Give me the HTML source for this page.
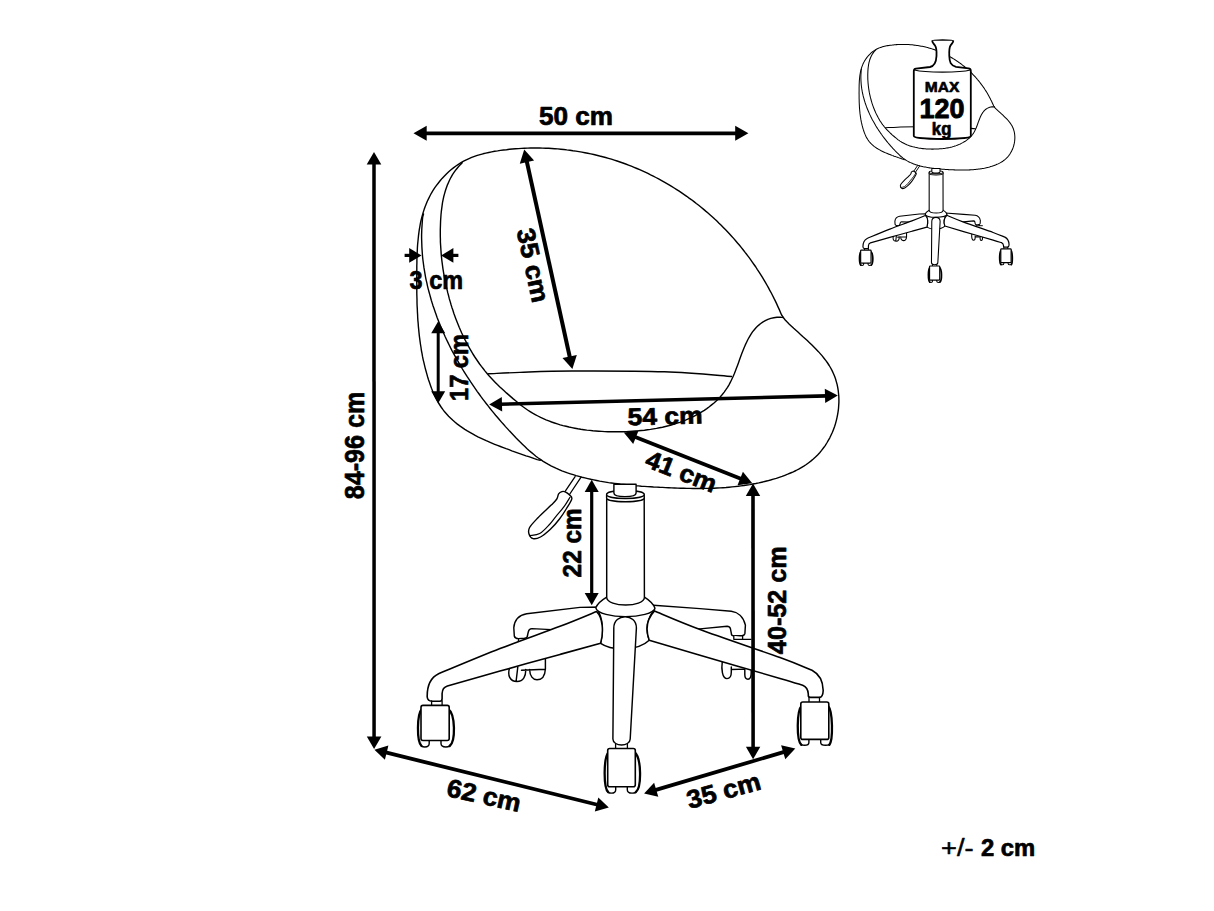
<!DOCTYPE html>
<html><head><meta charset="utf-8"><title>Chair dimensions</title>
<style>html,body{margin:0;padding:0;background:#fff;width:1214px;height:911px;overflow:hidden}svg{display:block}</style>
</head><body>
<svg width="1214" height="911" viewBox="0 0 1214 911" font-family="&quot;Liberation Sans&quot;, sans-serif">
<rect width="1214" height="911" fill="#fff"/>
<g fill="#fff" stroke="#000" stroke-linejoin="round" stroke-linecap="round" style="--k:1"><path d="M783.3 317.4 L781.6 315 L780.4 312.2 L779.2 309.4 L777.9 306.6 L776.7 303.9 L775.4 301.1 L774 298.4 L772.7 295.7 L771.3 293 L769.8 290.3 L768.4 287.7 L766.9 285 L765.4 282.4 L763.9 279.8 L762.3 277.2 L760.7 274.6 L759.1 272.1 L757.4 269.6 L755.8 267 L754 264.5 L752.3 262.1 L750.6 259.6 L748.8 257.2 L747 254.8 L745.1 252.4 L743.3 250 L741.4 247.6 L739.5 245.3 L737.5 243 L735.6 240.7 L733.6 238.4 L731.6 236.2 L729.6 234 L727.5 231.8 L725.4 229.6 L723.3 227.4 L721.2 225.3 L719 223.2 L716.9 221.1 L714.7 219.1 L712.5 217 L710.2 215 L708 213 L705.7 211.1 L703.4 209.1 L701.1 207.2 L698.7 205.3 L696.3 203.5 L694 201.6 L691.6 199.8 L689.1 198.1 L686.7 196.3 L684.2 194.6 L681.7 192.9 L679.2 191.2 L676.7 189.6 L674.2 188 L671.6 186.4 L669.1 184.8 L666.5 183.3 L663.9 181.8 L661.2 180.3 L658.6 178.9 L655.9 177.5 L653.3 176.1 L650.6 174.8 L647.9 173.4 L645.2 172.2 L642.4 170.9 L639.7 169.7 L636.9 168.5 L634.1 167.3 L631.3 166.2 L628.5 165.1 L625.7 164 L622.9 163 L620 162 L617.1 161 L614.3 160.1 L611.4 159.2 L608.5 158.3 L605.6 157.5 L602.6 156.7 L599.7 156 L596.7 155.2 L593.8 154.5 L590.8 153.9 L587.8 153.3 L584.9 152.7 L581.9 152.1 L578.9 151.6 L575.9 151.1 L572.9 150.7 L569.9 150.2 L566.8 149.9 L563.8 149.5 L560.8 149.2 L557.8 148.9 L554.8 148.7 L551.7 148.5 L548.7 148.3 L545.7 148.2 L542.6 148.1 L539.6 148 L536.6 148 L533.5 148 L530.5 148 L527.5 148.1 L524.5 148.2 L521.5 148.4 L518.5 148.6 L515.4 148.8 L512.4 149 L509.5 149.3 L506.5 149.7 L503.5 150 L500.5 150.4 L497.6 150.9 L494.6 151.3 L491.7 151.9 L488.8 152.5 L485.8 153.1 L483 153.8 L480.1 154.6 L477.3 155.4 L474.5 156.4 L471.7 157.4 L469 158.6 L466.3 159.8 L463.6 161.2 L461 162.7 L458.4 164.3 L455.9 166 L453.4 167.9 L451 169.8 L448.7 171.8 L446.4 174 L444.2 176.2 L442.1 178.4 L440.1 180.8 L438.2 183.2 L436.3 185.7 L434.5 188.2 L432.9 190.7 L431.3 193.3 L429.9 196 L428.6 198.6 L427.3 201.3 L426.2 204.1 L425.1 206.8 L424.1 209.6 L423.2 212.4 L422.4 215.2 L421.6 218.1 L420.9 221 L420.3 223.9 L419.8 226.8 L419.3 229.7 L418.9 232.7 L418.5 235.7 L418.2 238.7 L417.9 241.7 L417.6 244.7 L417.4 247.7 L417.3 250.7 L417.1 253.8 L417 256.8 L416.9 259.9 L416.9 262.9 L416.8 266 L416.8 269 L416.8 272.1 L416.8 275.1 L416.7 278.2 L416.7 281.3 L416.8 284.3 L416.8 287.3 L416.8 290.4 L416.8 293.4 L416.9 296.5 L417 299.5 L417 302.5 L417.1 305.6 L417.3 308.6 L417.4 311.6 L417.6 314.6 L417.7 317.6 L417.9 320.6 L418.2 323.6 L418.4 326.6 L418.7 329.6 L419 332.6 L419.3 335.6 L419.7 338.6 L420.1 341.6 L420.5 344.5 L421 347.5 L421.4 350.5 L422 353.4 L422.5 356.4 L423.1 359.3 L423.8 362.2 L424.5 365.2 L425.2 368.1 L426 371 L426.8 373.9 L427.6 376.8 L428.5 379.7 L429.5 382.6 L430.5 385.5 L431.5 388.3 L432.7 391.2 L433.9 393.9 L435.1 396.7 L436.5 399.4 L437.9 402 L439.5 404.5 L441.1 407 L442.8 409.4 L444.6 411.8 L446.6 414 L448.6 416.2 L450.7 418.2 L452.9 420.3 L455.1 422.2 L457.4 424.1 L459.8 425.9 L462.3 427.6 L464.8 429.3 L467.3 430.9 L469.9 432.4 L472.6 433.9 L475.2 435.4 L477.9 436.8 L480.7 438.1 L483.4 439.4 L486.2 440.7 L489 441.9 L491.8 443.1 L494.7 444.3 L497.5 445.4 L500.4 446.5 L503.3 447.6 L506.1 448.7 L509 449.7 L511.8 450.8 L514.7 451.8 L517.5 452.8 L520.4 453.8 L523.2 454.8 L526 455.8 L528.8 456.7 L531.6 457.7 L534.4 458.7 L537.2 459.6 L540.2 460.3" style="stroke-width:calc(var(--k) * 1.4)"/><path d="M423.5 214 L422.7 217 L422.4 220 L422.2 223 L422 226 L421.8 229 L421.7 232 L421.6 235 L421.6 238.1 L421.7 241.1 L421.8 244.1 L421.9 247.1 L422.1 250.1 L422.3 253 L422.5 256 L422.8 259 L423.2 262 L423.6 265 L424 267.9 L424.5 270.9 L425 273.9 L425.5 276.8 L426.1 279.8 L426.8 282.7 L427.4 285.6 L428.1 288.6 L428.9 291.5 L429.7 294.4 L430.5 297.3 L431.3 300.2 L432.2 303.1 L433.1 306 L434.1 308.8 L435.1 311.7 L436.1 314.6 L437.1 317.4 L438.2 320.2 L439.3 323 L440.5 325.9 L441.6 328.6 L442.8 331.4 L444.1 334.2 L445.3 337 L446.6 339.7 L447.9 342.4 L449.3 345.2 L450.6 347.9 L452 350.6 L453.5 353.3 L454.9 355.9 L456.4 358.6 L457.9 361.2 L459.4 363.8 L460.9 366.4 L462.4 369 L464 371.6 L465.6 374.2 L467.2 376.7 L468.9 379.2 L470.5 381.7 L472.2 384.2 L473.9 386.7 L475.6 389.1 L477.3 391.6 L479.1 394 L480.8 396.4 L482.6 398.8 L484.4 401.2 L486.2 403.5 L488.1 405.9 L489.9 408.2 L491.8 410.6 L493.7 412.9 L495.6 415.2 L497.6 417.5 L499.5 419.8 L501.5 422.1 L503.5 424.3 L505.5 426.6 L507.6 428.9 L509.6 431.1 L511.7 433.3 L513.8 435.5 L515.9 437.7 L518.1 439.9 L520.2 442.1 L522.4 444.2 L524.6 446.3 L526.8 448.4 L529 450.4 L531.3 452.4 L533.6 454.3 L535.9 456.2 L538.3 458 L540.8 459.7 L543.2 461.3 L545.8 462.9 L548.4 464.4 L551 465.8 L553.7 467.1 L556.4 468.4 L559.1 469.6 L561.9 470.8 L564.7 471.8 L567.5 472.9 L570.4 473.8 L573.2 474.7 L576.1 475.6 L579 476.4 L582 477.2 L584.9 477.9 L587.8 478.6 L590.8 479.3 L593.8 479.9 L596.7 480.5 L599.7 481.1 L602.6 481.6 L605.6 482.1 L608.6 482.6 L611.5 483 L614.5 483.4 L617.5 483.8 L620.5 484.2 L623.5 484.5 L626.5 484.8 L629.4 485.1 L632.4 485.4 L635.4 485.7 L638.4 485.9 L641.4 486.2 L644.4 486.4 L647.5 486.6 L650.5 486.8 L653.5 487 L656.5 487.1 L659.5 487.3 L662.5 487.4 L665.6 487.6 L668.6 487.7 L671.6 487.9 L674.6 488 L677.7 488.1 L680.7 488.2 L683.7 488.3 L686.8 488.4 L689.8 488.4 L692.8 488.5 L695.9 488.5 L698.9 488.5 L701.9 488.5 L704.9 488.4 L708 488.4 L711 488.3 L714 488.2 L717 488 L720 487.9 L723 487.7 L726 487.5 L729 487.2 L732 486.9 L735 486.6 L738 486.3 L741 485.9 L744 485.5 L747 485 L749.9 484.6 L752.9 484 L755.8 483.5 L758.8 482.9 L761.7 482.2 L764.7 481.5 L767.6 480.8 L770.5 480 L773.4 479.1 L776.3 478.3 L779.2 477.3 L782.1 476.4 L784.9 475.3 L787.7 474.2 L790.5 473 L793.3 471.8 L796 470.5 L798.7 469.1 L801.3 467.6 L803.8 466.1 L806.3 464.5 L808.7 462.7 L811.1 460.9 L813.3 459 L815.5 457 L817.6 454.9 L819.7 452.7 L821.6 450.4 L823.4 448 L825.2 445.6 L826.8 443 L828.3 440.4 L829.8 437.8 L831.1 435 L832.4 432.3 L833.5 429.4 L834.6 426.5 L835.5 423.6 L836.3 420.6 L837 417.6 L837.6 414.6 L838.1 411.6 L838.5 408.5 L838.7 405.5 L838.9 402.4 L838.9 399.4 L838.8 396.3 L838.5 393.3 L838.2 390.3 L837.7 387.4 L837.1 384.4 L836.3 381.6 L835.5 378.7 L834.5 376 L833.3 373.2 L832.1 370.6 L830.7 368 L829.2 365.5 L827.6 363 L825.9 360.6 L824 358.2 L822.2 355.9 L820.2 353.6 L818.2 351.4 L816.1 349.2 L813.9 347 L811.7 344.8 L809.5 342.7 L807.3 340.6 L805 338.5 L802.7 336.5 L800.5 334.4 L798.2 332.3 L795.9 330.3 L793.7 328.3 L791.5 326.2 L789.3 324.2 L787.2 322.1 L785.2 320 L783.4 317.6" style="stroke-width:calc(var(--k) * 1.4)"/><path d="M462.2 162.7 L460.1 164.9 L458 167.3 L456 169.7 L454.2 172.2 L452.5 174.7 L451 177.3 L449.6 180 L448.4 182.7 L447.2 185.4 L446.2 188.2 L445.3 191 L444.5 193.9 L443.7 196.8 L443.1 199.7 L442.5 202.7 L442.1 205.7 L441.7 208.6 L441.3 211.7 L441 214.7 L440.8 217.7 L440.6 220.7 L440.5 223.8 L440.4 226.8 L440.3 229.8 L440.3 232.9 L440.3 235.9 L440.4 238.9 L440.4 242 L440.6 245 L440.8 248 L441 251.1 L441.2 254.1 L441.5 257.1 L441.8 260.1 L442.2 263.1 L442.6 266.1 L443 269.1 L443.5 272.1 L444 275.1 L444.5 278.1 L445.1 281.1 L445.7 284 L446.4 287 L447.1 289.9 L447.8 292.9 L448.6 295.8 L449.3 298.7 L450.2 301.6 L451 304.5 L451.9 307.4 L452.9 310.3 L453.8 313.2 L454.8 316 L455.9 318.9 L457 321.7 L458.1 324.5 L459.2 327.3 L460.4 330 L461.6 332.8 L462.9 335.5 L464.2 338.2 L465.6 340.9 L467 343.6 L468.4 346.2 L469.9 348.8 L471.4 351.4 L472.9 354 L474.5 356.5 L476.2 359 L477.9 361.5 L479.6 364 L481.4 366.4 L483.3 368.8 L485.1 371.1 L487.1 373.5 L489 375.8 L491.1 378 L493.2 380.2 L495.3 382.4 L497.4 384.6 L499.6 386.7 L501.9 388.8 L504.1 390.8 L506.4 392.9 L508.7 394.9 L511 396.9 L513.3 398.9 L515.6 400.8 L518 402.8 L520.3 404.6 L522.7 406.5 L525.1 408.2 L527.6 410 L530.1 411.6 L532.6 413.2 L535.2 414.6 L537.9 416 L540.6 417.4 L543.3 418.6 L546 419.8 L548.8 420.9 L551.6 422 L554.5 423 L557.3 423.9 L560.2 424.8 L563.1 425.6 L566.1 426.3 L569 427 L571.9 427.6 L574.9 428.2 L577.8 428.8 L580.8 429.3 L583.8 429.7 L586.8 430.1 L589.8 430.4 L592.8 430.8 L595.8 431 L598.8 431.2 L601.8 431.4 L604.9 431.6 L607.9 431.7 L610.9 431.7 L614 431.8 L617 431.8 L620.1 431.7 L623.1 431.7 L626.2 431.6 L629.2 431.4 L632.3 431.2 L635.3 431 L638.4 430.8 L641.4 430.5 L644.5 430.2 L647.5 429.8 L650.5 429.4 L653.5 428.9 L656.5 428.4 L659.5 427.8 L662.5 427.2 L665.4 426.5 L668.4 425.8 L671.3 425 L674.2 424.2 L677.1 423.2 L679.9 422.3 L682.7 421.2 L685.5 420.1 L688.3 418.9 L691.1 417.7 L693.8 416.3 L696.5 414.9 L699.1 413.5 L701.7 411.9 L704.3 410.3 L706.8 408.6 L709.3 406.8 L711.6 404.9 L714 403 L716.2 401 L718.4 398.9 L720.4 396.7 L722.3 394.5 L724.2 392.1 L725.9 389.7 L727.5 387.3 L729 384.8 L730.4 382.2 L731.7 379.5 L733 376.8 L734.2 374 L735.3 371.2 L736.4 368.3 L737.5 365.4 L738.6 362.4 L739.6 359.5 L740.7 356.5 L741.8 353.6 L742.9 350.7 L744.1 347.8 L745.3 344.9 L746.6 342.2 L747.9 339.5 L749.4 336.9 L750.9 334.3 L752.5 331.9 L754.3 329.7 L756.2 327.5 L758.2 325.6 L760.4 323.7 L762.7 322.1 L765.3 320.7 L767.9 319.4 L770.8 318.4 L773.8 317.7 L777 317.3 L780.4 317.1 L783.4 317.6" style="stroke-width:calc(var(--k) * 1.4)"/><path d="M488.5 373.8 C493.8 373.6 506.1 372.9 520 372.4 C533.9 371.9 547.9 371.1 572 371 C596.1 370.9 637.9 370.9 664.5 371.8 C691.1 372.7 720.4 375.7 731.6 376.5" style="stroke-width:calc(var(--k) * 1.4)"/><path d="M575.1 476.6 L564.8 491.8" style="stroke-width:calc(var(--k) * 1.3)"/><path d="M580.9 477.4 L569.5 494.5" style="stroke-width:calc(var(--k) * 1.3)"/><path d="M558.6 493.9 C559.5 492.7 560.8 492 561.9 491.6 C563 491.2 564 491.3 565.2 491.8 C566.4 492.3 568.2 493.5 569.3 494.7 C570.4 495.9 572.3 496.5 571.8 498.8 C571.3 501.1 568.5 505.1 566.5 508.5 C564.5 511.9 562.2 515.5 559.5 519 C556.8 522.5 553.6 526.3 550.4 529.3 C547.2 532.3 543.4 535.5 540.5 537 C537.6 538.5 535 539.1 533.1 538.6 C531.2 538.1 529.6 535.9 529 534 C528.4 532.1 528.1 530.2 529.6 527.5 C531.1 524.8 534.4 521.5 538 517.7 C541.6 513.9 548.4 507.9 551.5 504.8 C554.6 501.7 555.6 500.8 556.8 499 C558 497.2 557.8 495.1 558.6 493.9Z" style="stroke-width:calc(var(--k) * 1.4)"/><path d="M570.2 497 C569.2 498.5 566.7 503 564.4 506.2 C562.1 509.4 558.7 513.1 556.2 516.1 C553.7 519.1 552.2 521.6 549.5 524.5 C546.8 527.4 542.9 531.8 539.7 533.6 C536.5 535.4 531.8 535.2 530.2 535.5" style="stroke-width:calc(var(--k) * 1.2)"/><path d="M600 607 L580 607.4 L526.7 613.8 C519.5 615 514.5 620 513.8 627.7 L514.3 636 C514.8 638 516.5 638.6 518.3 638.6 L524.7 638.3 C527 638 527.7 636.5 527.7 634.5 L528.3 631.8 C528.8 629.6 530 628.6 531.8 628.6 L551.4 629.6 L600 628 Z" style="stroke-width:calc(var(--k) * 1.45)"/><path d="M518.6 638.6 L518.3 642.5 M524.5 638.4 L524.3 642" style="stroke-width:calc(var(--k) * 1.3)"/><path d="M509.5 668 C507.5 675 509.5 681.5 517 681.5 C523.5 681.5 526 676 525.7 669.5 M517.8 667 L516.2 680.5 M529.6 669.5 C529.8 676 533 679.8 537 679.8 C542 679.8 545 676 545.4 669 L545.4 659 M521.5 670.2 L545.4 669.2" style="stroke-width:calc(var(--k) * 1.45)"/><path d="M650 605 L700 608.6 L731.3 611.2 C737.5 612 743.5 616.5 745.4 625.2 L744.9 633.4 C744.6 635 743.3 635.8 741.7 635.8 L733.6 635.8 C732 635.8 731.3 634.8 731.3 633.2 L730.4 628.6 C729.8 626.9 728.7 626.3 727.1 626.3 L700 628.9 L650 626 Z" style="stroke-width:calc(var(--k) * 1.45)"/><path d="M733.8 635.8 L733.8 639.3 L751 639.3 M742.6 635.8 L742.6 639.3" style="stroke-width:calc(var(--k) * 1.3)"/><path d="M722.3 661.5 C721.2 669 722.2 678.6 727 678.6 C730.3 678.6 731.3 676 731.3 672 L731.3 667 M731.3 669.5 L745 669.1 M744.8 669.5 L744.8 674.5 C744.8 678.5 746.5 679.2 748 679.2 C750.5 679.2 751.2 676.5 751.2 672.5 L751.2 667.5" style="stroke-width:calc(var(--k) * 1.45)"/><path d="M597 609 C603 618 603.8 632 600.6 643.3 C612 651 638 651 649.2 640.2 C645.5 630 646 620 654.5 609.5 Z" style="stroke-width:calc(var(--k) * 1.45)"/><path d="M606.7 597.2 C602 600 597.5 603.5 595.8 607.8 C597 613.5 612 616.6 625.3 616.6 C639 616.6 654 613.5 655 608.2 C653 603.5 649 600 644.4 597.2 Z" style="stroke-width:calc(var(--k) * 1.45)"/><path d="M606.7 497 L606.7 597.5 C607.5 607.6 643.8 607.6 644.4 597.5 L644.2 497 Z" style="stroke-width:calc(var(--k) * 1.45)"/><path d="M606.6 494.5 L606.6 498 C606.6 503 644.2 503 644.2 498 L644.2 494.5 Z" style="stroke-width:calc(var(--k) * 1.4)"/><path d="M606.6 494.5 C606.6 489.2 644.2 489.2 644.2 494.5 C644.2 499.8 606.6 499.8 606.6 494.5 Z" style="stroke-width:calc(var(--k) * 1.4)"/><path d="M613.9 484.3 L613.9 493 C613.9 497.8 636.1 497.8 636.1 493 L636.1 484.3 Z" style="stroke-width:calc(var(--k) * 1.4)"/><path d="M613.8 628 C613.8 613 636.4 613 636.4 628 L630.2 739 C630 747 613 747 612.9 739 Z" style="stroke-width:calc(var(--k) * 1.45)"/><path d="M596.5 611.5 C590.4 614 576.1 620.1 560 626.3 C543.9 632.5 520.2 640.7 500 648.6 C479.8 656.5 448.8 669.6 438.6 673.8 C430 678 427 686 427.2 697 C427.5 699.8 429.5 701.2 432 701.2 L440 701.2 C441.5 701.2 442.1 700.2 442.1 698.5 L442.1 693.5 C442.3 689.5 444 687 447.4 686 C456.2 683.5 481.2 676.4 500 671.1 C518.8 665.8 543.2 659 560 654.4 C576.8 649.8 593.8 645.1 600.6 643.3 C603.8 632 603 618 596.5 611.5 Z" style="stroke-width:calc(var(--k) * 1.6)"/><path d="M654.5 611 C662.1 614.1 679.1 621.7 700 629.5 C720.9 637.3 761.3 650.8 780 657.6 C798.7 664.4 806.7 668.2 812 670.3 C819 674 823 681 823.2 690.5 C823 695 821.5 697.4 819.5 697.4 L810.5 697.4 C809 697.4 808.3 696.8 808.3 695.5 L808.3 694 C808 689 806 686.5 802.7 685.2 C798.9 684.1 797.1 683.4 780 678.4 C762.9 673.4 721.8 661.7 700 655.3 C678.2 648.9 657.7 642.7 649.2 640.2 C645.5 630 646 620 654.5 611 Z" style="stroke-width:calc(var(--k) * 1.6)"/><path d="M431.6 700.8 L431.6 705.4 M442.1 700.8 L442.1 705.4" style="stroke-width:calc(var(--k) * 1.3)"/><path d="M420.5 737.5 L420.5 743.5 C420.5 748.1 429.2 748.1 429.2 743.5 L429.2 737.5 Z" style="stroke-width:calc(var(--k) * 1.4)"/><path d="M441 737.5 L441 743.5 C441 748.1 450.7 748.1 450.7 743.5 L450.7 737.5 Z" style="stroke-width:calc(var(--k) * 1.4)"/><path d="M422 708.9 C416.7 714.4 416.7 741.5 421.5 746" style="stroke-width:calc(var(--k) * 2.3)"/><path d="M448.2 708.9 C455.6 714.4 455.6 741.5 449.7 746" style="stroke-width:calc(var(--k) * 2.3)"/><rect x="421" y="705.4" width="28.2" height="35.1" rx="2" style="stroke-width:calc(var(--k) * 1.6)"/><path d="M615.6 743.9 L615.6 748.5 M627.4 743.9 L627.4 748.5" style="stroke-width:calc(var(--k) * 1.3)"/><path d="M607.2 783.7 L607.2 789.7 C607.2 794.3 615.7 794.3 615.7 789.7 L615.7 783.7 Z" style="stroke-width:calc(var(--k) * 1.4)"/><path d="M627.3 783.7 L627.3 789.7 C627.3 794.3 636.8 794.3 636.8 789.7 L636.8 783.7 Z" style="stroke-width:calc(var(--k) * 1.4)"/><path d="M608.7 752 C603.4 757.5 603.4 787.7 608.2 792.2" style="stroke-width:calc(var(--k) * 2.3)"/><path d="M634.3 752 C641.7 757.5 641.7 787.7 635.8 792.2" style="stroke-width:calc(var(--k) * 2.3)"/><rect x="607.7" y="748.5" width="27.6" height="38.2" rx="2" style="stroke-width:calc(var(--k) * 1.6)"/><path d="M809 697.4 L809 702 M819.5 697.4 L819.5 702" style="stroke-width:calc(var(--k) * 1.3)"/><path d="M800.3 736.4 L800.3 742.4 C800.3 746.2 808.9 746.2 808.9 742.4 L808.9 736.4 Z" style="stroke-width:calc(var(--k) * 1.4)"/><path d="M820.7 736.4 L820.7 742.4 C820.7 746.2 830.3 746.2 830.3 742.4 L830.3 736.4 Z" style="stroke-width:calc(var(--k) * 1.4)"/><path d="M801.8 705.5 C796.5 711 796.5 740.4 801.3 744.9" style="stroke-width:calc(var(--k) * 2.3)"/><path d="M827.8 705.5 C833.1 711 833.1 740.4 829.3 744.9" style="stroke-width:calc(var(--k) * 2.3)"/><rect x="800.8" y="702" width="28" height="37.4" rx="2" style="stroke-width:calc(var(--k) * 1.6)"/></g>
<g fill="#fff" stroke="#000" stroke-linejoin="round" stroke-linecap="round" transform="translate(705.3 -10.2) scale(0.369)" style="--k:2.0"><path d="M783.3 317.4 L781.6 315 L780.4 312.2 L779.2 309.4 L777.9 306.6 L776.7 303.9 L775.4 301.1 L774 298.4 L772.7 295.7 L771.3 293 L769.8 290.3 L768.4 287.7 L766.9 285 L765.4 282.4 L763.9 279.8 L762.3 277.2 L760.7 274.6 L759.1 272.1 L757.4 269.6 L755.8 267 L754 264.5 L752.3 262.1 L750.6 259.6 L748.8 257.2 L747 254.8 L745.1 252.4 L743.3 250 L741.4 247.6 L739.5 245.3 L737.5 243 L735.6 240.7 L733.6 238.4 L731.6 236.2 L729.6 234 L727.5 231.8 L725.4 229.6 L723.3 227.4 L721.2 225.3 L719 223.2 L716.9 221.1 L714.7 219.1 L712.5 217 L710.2 215 L708 213 L705.7 211.1 L703.4 209.1 L701.1 207.2 L698.7 205.3 L696.3 203.5 L694 201.6 L691.6 199.8 L689.1 198.1 L686.7 196.3 L684.2 194.6 L681.7 192.9 L679.2 191.2 L676.7 189.6 L674.2 188 L671.6 186.4 L669.1 184.8 L666.5 183.3 L663.9 181.8 L661.2 180.3 L658.6 178.9 L655.9 177.5 L653.3 176.1 L650.6 174.8 L647.9 173.4 L645.2 172.2 L642.4 170.9 L639.7 169.7 L636.9 168.5 L634.1 167.3 L631.3 166.2 L628.5 165.1 L625.7 164 L622.9 163 L620 162 L617.1 161 L614.3 160.1 L611.4 159.2 L608.5 158.3 L605.6 157.5 L602.6 156.7 L599.7 156 L596.7 155.2 L593.8 154.5 L590.8 153.9 L587.8 153.3 L584.9 152.7 L581.9 152.1 L578.9 151.6 L575.9 151.1 L572.9 150.7 L569.9 150.2 L566.8 149.9 L563.8 149.5 L560.8 149.2 L557.8 148.9 L554.8 148.7 L551.7 148.5 L548.7 148.3 L545.7 148.2 L542.6 148.1 L539.6 148 L536.6 148 L533.5 148 L530.5 148 L527.5 148.1 L524.5 148.2 L521.5 148.4 L518.5 148.6 L515.4 148.8 L512.4 149 L509.5 149.3 L506.5 149.7 L503.5 150 L500.5 150.4 L497.6 150.9 L494.6 151.3 L491.7 151.9 L488.8 152.5 L485.8 153.1 L483 153.8 L480.1 154.6 L477.3 155.4 L474.5 156.4 L471.7 157.4 L469 158.6 L466.3 159.8 L463.6 161.2 L461 162.7 L458.4 164.3 L455.9 166 L453.4 167.9 L451 169.8 L448.7 171.8 L446.4 174 L444.2 176.2 L442.1 178.4 L440.1 180.8 L438.2 183.2 L436.3 185.7 L434.5 188.2 L432.9 190.7 L431.3 193.3 L429.9 196 L428.6 198.6 L427.3 201.3 L426.2 204.1 L425.1 206.8 L424.1 209.6 L423.2 212.4 L422.4 215.2 L421.6 218.1 L420.9 221 L420.3 223.9 L419.8 226.8 L419.3 229.7 L418.9 232.7 L418.5 235.7 L418.2 238.7 L417.9 241.7 L417.6 244.7 L417.4 247.7 L417.3 250.7 L417.1 253.8 L417 256.8 L416.9 259.9 L416.9 262.9 L416.8 266 L416.8 269 L416.8 272.1 L416.8 275.1 L416.7 278.2 L416.7 281.3 L416.8 284.3 L416.8 287.3 L416.8 290.4 L416.8 293.4 L416.9 296.5 L417 299.5 L417 302.5 L417.1 305.6 L417.3 308.6 L417.4 311.6 L417.6 314.6 L417.7 317.6 L417.9 320.6 L418.2 323.6 L418.4 326.6 L418.7 329.6 L419 332.6 L419.3 335.6 L419.7 338.6 L420.1 341.6 L420.5 344.5 L421 347.5 L421.4 350.5 L422 353.4 L422.5 356.4 L423.1 359.3 L423.8 362.2 L424.5 365.2 L425.2 368.1 L426 371 L426.8 373.9 L427.6 376.8 L428.5 379.7 L429.5 382.6 L430.5 385.5 L431.5 388.3 L432.7 391.2 L433.9 393.9 L435.1 396.7 L436.5 399.4 L437.9 402 L439.5 404.5 L441.1 407 L442.8 409.4 L444.6 411.8 L446.6 414 L448.6 416.2 L450.7 418.2 L452.9 420.3 L455.1 422.2 L457.4 424.1 L459.8 425.9 L462.3 427.6 L464.8 429.3 L467.3 430.9 L469.9 432.4 L472.6 433.9 L475.2 435.4 L477.9 436.8 L480.7 438.1 L483.4 439.4 L486.2 440.7 L489 441.9 L491.8 443.1 L494.7 444.3 L497.5 445.4 L500.4 446.5 L503.3 447.6 L506.1 448.7 L509 449.7 L511.8 450.8 L514.7 451.8 L517.5 452.8 L520.4 453.8 L523.2 454.8 L526 455.8 L528.8 456.7 L531.6 457.7 L534.4 458.7 L537.2 459.6 L540.2 460.3" style="stroke-width:calc(var(--k) * 1.4)"/><path d="M423.5 214 L422.7 217 L422.4 220 L422.2 223 L422 226 L421.8 229 L421.7 232 L421.6 235 L421.6 238.1 L421.7 241.1 L421.8 244.1 L421.9 247.1 L422.1 250.1 L422.3 253 L422.5 256 L422.8 259 L423.2 262 L423.6 265 L424 267.9 L424.5 270.9 L425 273.9 L425.5 276.8 L426.1 279.8 L426.8 282.7 L427.4 285.6 L428.1 288.6 L428.9 291.5 L429.7 294.4 L430.5 297.3 L431.3 300.2 L432.2 303.1 L433.1 306 L434.1 308.8 L435.1 311.7 L436.1 314.6 L437.1 317.4 L438.2 320.2 L439.3 323 L440.5 325.9 L441.6 328.6 L442.8 331.4 L444.1 334.2 L445.3 337 L446.6 339.7 L447.9 342.4 L449.3 345.2 L450.6 347.9 L452 350.6 L453.5 353.3 L454.9 355.9 L456.4 358.6 L457.9 361.2 L459.4 363.8 L460.9 366.4 L462.4 369 L464 371.6 L465.6 374.2 L467.2 376.7 L468.9 379.2 L470.5 381.7 L472.2 384.2 L473.9 386.7 L475.6 389.1 L477.3 391.6 L479.1 394 L480.8 396.4 L482.6 398.8 L484.4 401.2 L486.2 403.5 L488.1 405.9 L489.9 408.2 L491.8 410.6 L493.7 412.9 L495.6 415.2 L497.6 417.5 L499.5 419.8 L501.5 422.1 L503.5 424.3 L505.5 426.6 L507.6 428.9 L509.6 431.1 L511.7 433.3 L513.8 435.5 L515.9 437.7 L518.1 439.9 L520.2 442.1 L522.4 444.2 L524.6 446.3 L526.8 448.4 L529 450.4 L531.3 452.4 L533.6 454.3 L535.9 456.2 L538.3 458 L540.8 459.7 L543.2 461.3 L545.8 462.9 L548.4 464.4 L551 465.8 L553.7 467.1 L556.4 468.4 L559.1 469.6 L561.9 470.8 L564.7 471.8 L567.5 472.9 L570.4 473.8 L573.2 474.7 L576.1 475.6 L579 476.4 L582 477.2 L584.9 477.9 L587.8 478.6 L590.8 479.3 L593.8 479.9 L596.7 480.5 L599.7 481.1 L602.6 481.6 L605.6 482.1 L608.6 482.6 L611.5 483 L614.5 483.4 L617.5 483.8 L620.5 484.2 L623.5 484.5 L626.5 484.8 L629.4 485.1 L632.4 485.4 L635.4 485.7 L638.4 485.9 L641.4 486.2 L644.4 486.4 L647.5 486.6 L650.5 486.8 L653.5 487 L656.5 487.1 L659.5 487.3 L662.5 487.4 L665.6 487.6 L668.6 487.7 L671.6 487.9 L674.6 488 L677.7 488.1 L680.7 488.2 L683.7 488.3 L686.8 488.4 L689.8 488.4 L692.8 488.5 L695.9 488.5 L698.9 488.5 L701.9 488.5 L704.9 488.4 L708 488.4 L711 488.3 L714 488.2 L717 488 L720 487.9 L723 487.7 L726 487.5 L729 487.2 L732 486.9 L735 486.6 L738 486.3 L741 485.9 L744 485.5 L747 485 L749.9 484.6 L752.9 484 L755.8 483.5 L758.8 482.9 L761.7 482.2 L764.7 481.5 L767.6 480.8 L770.5 480 L773.4 479.1 L776.3 478.3 L779.2 477.3 L782.1 476.4 L784.9 475.3 L787.7 474.2 L790.5 473 L793.3 471.8 L796 470.5 L798.7 469.1 L801.3 467.6 L803.8 466.1 L806.3 464.5 L808.7 462.7 L811.1 460.9 L813.3 459 L815.5 457 L817.6 454.9 L819.7 452.7 L821.6 450.4 L823.4 448 L825.2 445.6 L826.8 443 L828.3 440.4 L829.8 437.8 L831.1 435 L832.4 432.3 L833.5 429.4 L834.6 426.5 L835.5 423.6 L836.3 420.6 L837 417.6 L837.6 414.6 L838.1 411.6 L838.5 408.5 L838.7 405.5 L838.9 402.4 L838.9 399.4 L838.8 396.3 L838.5 393.3 L838.2 390.3 L837.7 387.4 L837.1 384.4 L836.3 381.6 L835.5 378.7 L834.5 376 L833.3 373.2 L832.1 370.6 L830.7 368 L829.2 365.5 L827.6 363 L825.9 360.6 L824 358.2 L822.2 355.9 L820.2 353.6 L818.2 351.4 L816.1 349.2 L813.9 347 L811.7 344.8 L809.5 342.7 L807.3 340.6 L805 338.5 L802.7 336.5 L800.5 334.4 L798.2 332.3 L795.9 330.3 L793.7 328.3 L791.5 326.2 L789.3 324.2 L787.2 322.1 L785.2 320 L783.4 317.6" style="stroke-width:calc(var(--k) * 1.4)"/><path d="M462.2 162.7 L460.1 164.9 L458 167.3 L456 169.7 L454.2 172.2 L452.5 174.7 L451 177.3 L449.6 180 L448.4 182.7 L447.2 185.4 L446.2 188.2 L445.3 191 L444.5 193.9 L443.7 196.8 L443.1 199.7 L442.5 202.7 L442.1 205.7 L441.7 208.6 L441.3 211.7 L441 214.7 L440.8 217.7 L440.6 220.7 L440.5 223.8 L440.4 226.8 L440.3 229.8 L440.3 232.9 L440.3 235.9 L440.4 238.9 L440.4 242 L440.6 245 L440.8 248 L441 251.1 L441.2 254.1 L441.5 257.1 L441.8 260.1 L442.2 263.1 L442.6 266.1 L443 269.1 L443.5 272.1 L444 275.1 L444.5 278.1 L445.1 281.1 L445.7 284 L446.4 287 L447.1 289.9 L447.8 292.9 L448.6 295.8 L449.3 298.7 L450.2 301.6 L451 304.5 L451.9 307.4 L452.9 310.3 L453.8 313.2 L454.8 316 L455.9 318.9 L457 321.7 L458.1 324.5 L459.2 327.3 L460.4 330 L461.6 332.8 L462.9 335.5 L464.2 338.2 L465.6 340.9 L467 343.6 L468.4 346.2 L469.9 348.8 L471.4 351.4 L472.9 354 L474.5 356.5 L476.2 359 L477.9 361.5 L479.6 364 L481.4 366.4 L483.3 368.8 L485.1 371.1 L487.1 373.5 L489 375.8 L491.1 378 L493.2 380.2 L495.3 382.4 L497.4 384.6 L499.6 386.7 L501.9 388.8 L504.1 390.8 L506.4 392.9 L508.7 394.9 L511 396.9 L513.3 398.9 L515.6 400.8 L518 402.8 L520.3 404.6 L522.7 406.5 L525.1 408.2 L527.6 410 L530.1 411.6 L532.6 413.2 L535.2 414.6 L537.9 416 L540.6 417.4 L543.3 418.6 L546 419.8 L548.8 420.9 L551.6 422 L554.5 423 L557.3 423.9 L560.2 424.8 L563.1 425.6 L566.1 426.3 L569 427 L571.9 427.6 L574.9 428.2 L577.8 428.8 L580.8 429.3 L583.8 429.7 L586.8 430.1 L589.8 430.4 L592.8 430.8 L595.8 431 L598.8 431.2 L601.8 431.4 L604.9 431.6 L607.9 431.7 L610.9 431.7 L614 431.8 L617 431.8 L620.1 431.7 L623.1 431.7 L626.2 431.6 L629.2 431.4 L632.3 431.2 L635.3 431 L638.4 430.8 L641.4 430.5 L644.5 430.2 L647.5 429.8 L650.5 429.4 L653.5 428.9 L656.5 428.4 L659.5 427.8 L662.5 427.2 L665.4 426.5 L668.4 425.8 L671.3 425 L674.2 424.2 L677.1 423.2 L679.9 422.3 L682.7 421.2 L685.5 420.1 L688.3 418.9 L691.1 417.7 L693.8 416.3 L696.5 414.9 L699.1 413.5 L701.7 411.9 L704.3 410.3 L706.8 408.6 L709.3 406.8 L711.6 404.9 L714 403 L716.2 401 L718.4 398.9 L720.4 396.7 L722.3 394.5 L724.2 392.1 L725.9 389.7 L727.5 387.3 L729 384.8 L730.4 382.2 L731.7 379.5 L733 376.8 L734.2 374 L735.3 371.2 L736.4 368.3 L737.5 365.4 L738.6 362.4 L739.6 359.5 L740.7 356.5 L741.8 353.6 L742.9 350.7 L744.1 347.8 L745.3 344.9 L746.6 342.2 L747.9 339.5 L749.4 336.9 L750.9 334.3 L752.5 331.9 L754.3 329.7 L756.2 327.5 L758.2 325.6 L760.4 323.7 L762.7 322.1 L765.3 320.7 L767.9 319.4 L770.8 318.4 L773.8 317.7 L777 317.3 L780.4 317.1 L783.4 317.6" style="stroke-width:calc(var(--k) * 1.4)"/><path d="M488.5 373.8 C493.8 373.6 506.1 372.9 520 372.4 C533.9 371.9 547.9 371.1 572 371 C596.1 370.9 637.9 370.9 664.5 371.8 C691.1 372.7 720.4 375.7 731.6 376.5" style="stroke-width:calc(var(--k) * 1.4)"/><path d="M575.1 476.6 L564.8 491.8" style="stroke-width:calc(var(--k) * 1.3)"/><path d="M580.9 477.4 L569.5 494.5" style="stroke-width:calc(var(--k) * 1.3)"/><path d="M558.6 493.9 C559.5 492.7 560.8 492 561.9 491.6 C563 491.2 564 491.3 565.2 491.8 C566.4 492.3 568.2 493.5 569.3 494.7 C570.4 495.9 572.3 496.5 571.8 498.8 C571.3 501.1 568.5 505.1 566.5 508.5 C564.5 511.9 562.2 515.5 559.5 519 C556.8 522.5 553.6 526.3 550.4 529.3 C547.2 532.3 543.4 535.5 540.5 537 C537.6 538.5 535 539.1 533.1 538.6 C531.2 538.1 529.6 535.9 529 534 C528.4 532.1 528.1 530.2 529.6 527.5 C531.1 524.8 534.4 521.5 538 517.7 C541.6 513.9 548.4 507.9 551.5 504.8 C554.6 501.7 555.6 500.8 556.8 499 C558 497.2 557.8 495.1 558.6 493.9Z" style="stroke-width:calc(var(--k) * 1.4)"/><path d="M570.2 497 C569.2 498.5 566.7 503 564.4 506.2 C562.1 509.4 558.7 513.1 556.2 516.1 C553.7 519.1 552.2 521.6 549.5 524.5 C546.8 527.4 542.9 531.8 539.7 533.6 C536.5 535.4 531.8 535.2 530.2 535.5" style="stroke-width:calc(var(--k) * 1.2)"/><path d="M600 607 L580 607.4 L526.7 613.8 C519.5 615 514.5 620 513.8 627.7 L514.3 636 C514.8 638 516.5 638.6 518.3 638.6 L524.7 638.3 C527 638 527.7 636.5 527.7 634.5 L528.3 631.8 C528.8 629.6 530 628.6 531.8 628.6 L551.4 629.6 L600 628 Z" style="stroke-width:calc(var(--k) * 1.45)"/><path d="M518.6 638.6 L518.3 642.5 M524.5 638.4 L524.3 642" style="stroke-width:calc(var(--k) * 1.3)"/><path d="M509.5 668 C507.5 675 509.5 681.5 517 681.5 C523.5 681.5 526 676 525.7 669.5 M517.8 667 L516.2 680.5 M529.6 669.5 C529.8 676 533 679.8 537 679.8 C542 679.8 545 676 545.4 669 L545.4 659 M521.5 670.2 L545.4 669.2" style="stroke-width:calc(var(--k) * 1.45)"/><path d="M650 605 L700 608.6 L731.3 611.2 C737.5 612 743.5 616.5 745.4 625.2 L744.9 633.4 C744.6 635 743.3 635.8 741.7 635.8 L733.6 635.8 C732 635.8 731.3 634.8 731.3 633.2 L730.4 628.6 C729.8 626.9 728.7 626.3 727.1 626.3 L700 628.9 L650 626 Z" style="stroke-width:calc(var(--k) * 1.45)"/><path d="M733.8 635.8 L733.8 639.3 L751 639.3 M742.6 635.8 L742.6 639.3" style="stroke-width:calc(var(--k) * 1.3)"/><path d="M722.3 661.5 C721.2 669 722.2 678.6 727 678.6 C730.3 678.6 731.3 676 731.3 672 L731.3 667 M731.3 669.5 L745 669.1 M744.8 669.5 L744.8 674.5 C744.8 678.5 746.5 679.2 748 679.2 C750.5 679.2 751.2 676.5 751.2 672.5 L751.2 667.5" style="stroke-width:calc(var(--k) * 1.45)"/><path d="M597 609 C603 618 603.8 632 600.6 643.3 C612 651 638 651 649.2 640.2 C645.5 630 646 620 654.5 609.5 Z" style="stroke-width:calc(var(--k) * 1.45)"/><path d="M606.7 597.2 C602 600 597.5 603.5 595.8 607.8 C597 613.5 612 616.6 625.3 616.6 C639 616.6 654 613.5 655 608.2 C653 603.5 649 600 644.4 597.2 Z" style="stroke-width:calc(var(--k) * 1.45)"/><path d="M606.7 497 L606.7 597.5 C607.5 607.6 643.8 607.6 644.4 597.5 L644.2 497 Z" style="stroke-width:calc(var(--k) * 1.45)"/><path d="M606.6 494.5 L606.6 498 C606.6 503 644.2 503 644.2 498 L644.2 494.5 Z" style="stroke-width:calc(var(--k) * 1.4)"/><path d="M606.6 494.5 C606.6 489.2 644.2 489.2 644.2 494.5 C644.2 499.8 606.6 499.8 606.6 494.5 Z" style="stroke-width:calc(var(--k) * 1.4)"/><path d="M613.9 484.3 L613.9 493 C613.9 497.8 636.1 497.8 636.1 493 L636.1 484.3 Z" style="stroke-width:calc(var(--k) * 1.4)"/><path d="M613.8 628 C613.8 613 636.4 613 636.4 628 L630.2 739 C630 747 613 747 612.9 739 Z" style="stroke-width:calc(var(--k) * 1.45)"/><path d="M596.5 611.5 C590.4 614 576.1 620.1 560 626.3 C543.9 632.5 520.2 640.7 500 648.6 C479.8 656.5 448.8 669.6 438.6 673.8 C430 678 427 686 427.2 697 C427.5 699.8 429.5 701.2 432 701.2 L440 701.2 C441.5 701.2 442.1 700.2 442.1 698.5 L442.1 693.5 C442.3 689.5 444 687 447.4 686 C456.2 683.5 481.2 676.4 500 671.1 C518.8 665.8 543.2 659 560 654.4 C576.8 649.8 593.8 645.1 600.6 643.3 C603.8 632 603 618 596.5 611.5 Z" style="stroke-width:calc(var(--k) * 1.6)"/><path d="M654.5 611 C662.1 614.1 679.1 621.7 700 629.5 C720.9 637.3 761.3 650.8 780 657.6 C798.7 664.4 806.7 668.2 812 670.3 C819 674 823 681 823.2 690.5 C823 695 821.5 697.4 819.5 697.4 L810.5 697.4 C809 697.4 808.3 696.8 808.3 695.5 L808.3 694 C808 689 806 686.5 802.7 685.2 C798.9 684.1 797.1 683.4 780 678.4 C762.9 673.4 721.8 661.7 700 655.3 C678.2 648.9 657.7 642.7 649.2 640.2 C645.5 630 646 620 654.5 611 Z" style="stroke-width:calc(var(--k) * 1.6)"/><path d="M431.6 700.8 L431.6 705.4 M442.1 700.8 L442.1 705.4" style="stroke-width:calc(var(--k) * 1.3)"/><path d="M420.5 737.5 L420.5 743.5 C420.5 748.1 429.2 748.1 429.2 743.5 L429.2 737.5 Z" style="stroke-width:calc(var(--k) * 1.4)"/><path d="M441 737.5 L441 743.5 C441 748.1 450.7 748.1 450.7 743.5 L450.7 737.5 Z" style="stroke-width:calc(var(--k) * 1.4)"/><path d="M422 708.9 C416.7 714.4 416.7 741.5 421.5 746" style="stroke-width:calc(var(--k) * 2.3)"/><path d="M448.2 708.9 C455.6 714.4 455.6 741.5 449.7 746" style="stroke-width:calc(var(--k) * 2.3)"/><rect x="421" y="705.4" width="28.2" height="35.1" rx="2" style="stroke-width:calc(var(--k) * 1.6)"/><path d="M615.6 743.9 L615.6 748.5 M627.4 743.9 L627.4 748.5" style="stroke-width:calc(var(--k) * 1.3)"/><path d="M607.2 783.7 L607.2 789.7 C607.2 794.3 615.7 794.3 615.7 789.7 L615.7 783.7 Z" style="stroke-width:calc(var(--k) * 1.4)"/><path d="M627.3 783.7 L627.3 789.7 C627.3 794.3 636.8 794.3 636.8 789.7 L636.8 783.7 Z" style="stroke-width:calc(var(--k) * 1.4)"/><path d="M608.7 752 C603.4 757.5 603.4 787.7 608.2 792.2" style="stroke-width:calc(var(--k) * 2.3)"/><path d="M634.3 752 C641.7 757.5 641.7 787.7 635.8 792.2" style="stroke-width:calc(var(--k) * 2.3)"/><rect x="607.7" y="748.5" width="27.6" height="38.2" rx="2" style="stroke-width:calc(var(--k) * 1.6)"/><path d="M809 697.4 L809 702 M819.5 697.4 L819.5 702" style="stroke-width:calc(var(--k) * 1.3)"/><path d="M800.3 736.4 L800.3 742.4 C800.3 746.2 808.9 746.2 808.9 742.4 L808.9 736.4 Z" style="stroke-width:calc(var(--k) * 1.4)"/><path d="M820.7 736.4 L820.7 742.4 C820.7 746.2 830.3 746.2 830.3 742.4 L830.3 736.4 Z" style="stroke-width:calc(var(--k) * 1.4)"/><path d="M801.8 705.5 C796.5 711 796.5 740.4 801.3 744.9" style="stroke-width:calc(var(--k) * 2.3)"/><path d="M827.8 705.5 C833.1 711 833.1 740.4 829.3 744.9" style="stroke-width:calc(var(--k) * 2.3)"/><rect x="800.8" y="702" width="28" height="37.4" rx="2" style="stroke-width:calc(var(--k) * 1.6)"/></g>
<g fill="#000"><line x1="424.7" y1="133.3" x2="737.2" y2="133.3" stroke="#000" stroke-width="3.7"/><path d="M748.4 133.3 L735.2 140.8 L735.2 125.8 Z"/><path d="M413.5 133.3 L426.7 125.8 L426.7 140.8 Z"/><line x1="374" y1="162.4" x2="374.1" y2="738.4" stroke="#000" stroke-width="3.5"/><path d="M374.1 748.9 L366.8 736.4 L381.4 736.4 Z"/><path d="M374 151.9 L381.3 164.4 L366.7 164.4 Z"/><line x1="526.5" y1="160.1" x2="570.1" y2="358.5" stroke="#000" stroke-width="4.0"/><path d="M572.4 369 L562.5 358.1 L576.8 354.9 Z"/><path d="M524.2 149.6 L534.1 160.5 L519.8 163.7 Z"/><line x1="438.2" y1="331.2" x2="438.2" y2="393.2" stroke="#000" stroke-width="3.0"/><path d="M438.2 403.2 L431.2 391.2 L445.2 391.2 Z"/><path d="M438.2 321.2 L445.2 333.2 L431.2 333.2 Z"/><line x1="500" y1="404.2" x2="827" y2="395.9" stroke="#000" stroke-width="3.6"/><path d="M837.8 395.6 L825.2 403.1 L824.8 388.7 Z"/><path d="M489.2 404.5 L501.8 397 L502.2 411.4 Z"/><line x1="634" y1="436.5" x2="742.1" y2="479.3" stroke="#000" stroke-width="3.8"/><path d="M752.3 483.3 L737.5 485.3 L742.9 471.7 Z"/><path d="M623.8 432.5 L638.6 430.5 L633.2 444.1 Z"/><line x1="591.7" y1="490" x2="591.7" y2="594.9" stroke="#000" stroke-width="3.2"/><path d="M591.7 605.2 L584.7 592.9 L598.7 592.9 Z"/><path d="M591.7 479.7 L598.7 492 L584.7 492 Z"/><line x1="753" y1="493.9" x2="753.1" y2="748.8" stroke="#000" stroke-width="3.6"/><path d="M753.1 759.2 L745.9 746.8 L760.3 746.8 Z"/><path d="M753 483.5 L760.2 495.9 L745.8 495.9 Z"/><line x1="384.7" y1="752.2" x2="598.5" y2="805" stroke="#000" stroke-width="3.8"/><path d="M608.8 807.5 L594.8 811.6 L598.3 797.4 Z"/><path d="M374.4 749.7 L388.4 745.6 L384.9 759.8 Z"/><line x1="654.3" y1="790.4" x2="785.1" y2="751.6" stroke="#000" stroke-width="3.8"/><path d="M795.3 748.6 L785.3 759.2 L781.1 745.2 Z"/><path d="M644.1 793.4 L654.1 782.8 L658.3 796.8 Z"/><line x1="404.6" y1="255.4" x2="411.2" y2="255.4" stroke="#000" stroke-width="3.2"/><path d="M421.5 255.4 L409.2 262.8 L409.2 248 Z"/><line x1="458.4" y1="255.4" x2="451.4" y2="255.4" stroke="#000" stroke-width="3.2"/><path d="M441.1 255.4 L453.4 248 L453.4 262.8 Z"/></g>
<g fill="#000" stroke="#000" stroke-width="0.7" stroke-linejoin="round" font-family="&quot;Liberation Sans&quot;, sans-serif"><text x="0" y="0" text-anchor="middle" font-size="25" font-weight="bold" textLength="74" lengthAdjust="spacingAndGlyphs" transform="translate(576 125) rotate(0)">50 cm</text><text x="0" y="0" text-anchor="middle" font-size="25" font-weight="bold" textLength="53.4" lengthAdjust="spacingAndGlyphs" transform="translate(436.3 288.8) rotate(0)">3 cm</text><text x="0" y="0" text-anchor="middle" font-size="25.5" font-weight="bold" textLength="75" lengthAdjust="spacingAndGlyphs" transform="translate(524.6 267.2) rotate(77.7)">35 cm</text><text x="0" y="0" text-anchor="middle" font-size="25.5" font-weight="bold" textLength="67" lengthAdjust="spacingAndGlyphs" transform="translate(468.3 367.5) rotate(-90)">17 cm</text><text x="0" y="0" text-anchor="middle" font-size="27" font-weight="bold" textLength="107.5" lengthAdjust="spacingAndGlyphs" transform="translate(364.3 445.5) rotate(-90)">84-96 cm</text><text x="0" y="0" text-anchor="middle" font-size="24" font-weight="bold" textLength="75" lengthAdjust="spacingAndGlyphs" transform="translate(665.2 424.4) rotate(-1.4)">54 cm</text><text x="0" y="0" text-anchor="middle" font-size="25" font-weight="bold" textLength="74" lengthAdjust="spacingAndGlyphs" transform="translate(678.2 479.5) rotate(21.5)">41 cm</text><text x="0" y="0" text-anchor="middle" font-size="26" font-weight="bold" textLength="69" lengthAdjust="spacingAndGlyphs" transform="translate(581.4 542.9) rotate(-90)">22 cm</text><text x="0" y="0" text-anchor="middle" font-size="26" font-weight="bold" textLength="107.9" lengthAdjust="spacingAndGlyphs" transform="translate(786 600.2) rotate(-90)">40-52 cm</text><text x="0" y="0" text-anchor="middle" font-size="25.5" font-weight="bold" textLength="75" lengthAdjust="spacingAndGlyphs" transform="translate(482.2 803.9) rotate(12.6)">62 cm</text><text x="0" y="0" text-anchor="middle" font-size="25.5" font-weight="bold" textLength="75.5" lengthAdjust="spacingAndGlyphs" transform="translate(726 799) rotate(-15.4)">35 cm</text><text x="941" y="856.1" font-size="23" font-weight="normal" stroke-width="0.5" textLength="32.5" lengthAdjust="spacingAndGlyphs">+/-</text><text x="981" y="856.1" font-size="24.5" font-weight="bold" textLength="54.3" lengthAdjust="spacingAndGlyphs">2 cm</text></g>
<g fill="#fff" stroke="#000" stroke-linejoin="round" stroke-linecap="round" font-family="&quot;Liberation Sans&quot;, sans-serif"><path d="M932.2 40.8 C932.2 39.8 953.3 39.8 953.3 40.8 C953.3 42.5 952 43.5 950.5 45.5 C949 48 949.1 52 949.3 56 C949.5 62 950.5 65.5 956 66.8 L968.5 68.4 C970 68.6 970.8 69.5 970.8 71 L970.8 136 C970.8 140 913.8 140 913.8 136 L913.8 71 C913.8 69.5 914.6 68.8 916 68.6 L930 67 C935 66 936.2 62 936.5 56 C936.7 52 936.8 48 935 45.5 C933.5 43.5 932.2 42.5 932.2 40.8 Z" stroke-width="1.8"/><path d="M914.5 70 C925 72.8 960 72.8 970.3 70" stroke-width="1.1"/><text x="942.1" y="91.9" font-size="14.5" font-weight="bold" text-anchor="middle" textLength="34.6" lengthAdjust="spacingAndGlyphs" stroke="#000" stroke-width="0.6" fill="#000">MAX</text><text x="942.1" y="118.2" font-size="27.8" font-weight="bold" text-anchor="middle" textLength="45" lengthAdjust="spacingAndGlyphs" stroke="#000" stroke-width="0.9" fill="#000">120</text><text x="941.6" y="135.3" font-size="18.5" font-weight="bold" text-anchor="middle" textLength="19.6" lengthAdjust="spacingAndGlyphs" stroke="#000" stroke-width="0.7" fill="#000">kg</text></g>
</svg>
</body></html>
